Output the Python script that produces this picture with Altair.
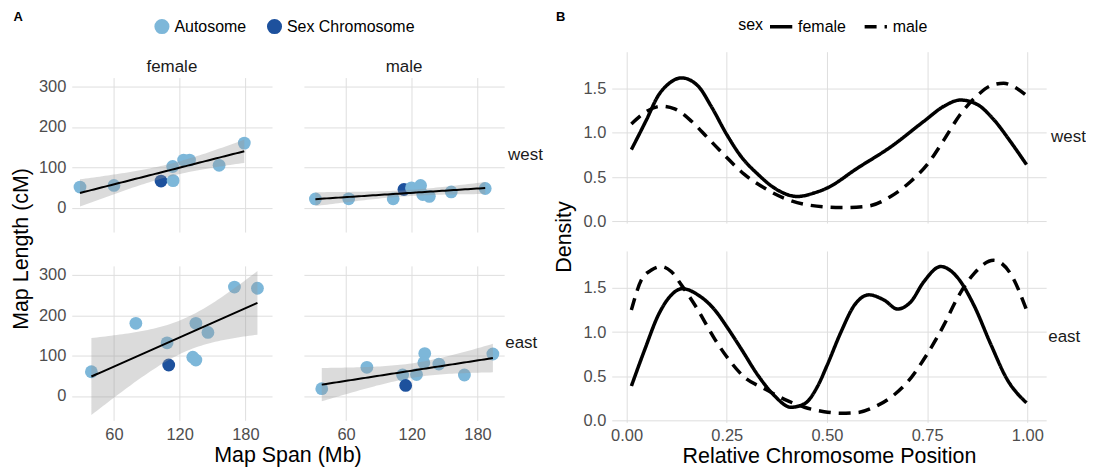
import altair as alt
import pandas as pd
import numpy as np

FONT = "Liberation Sans"

# ---------------- Panel A data (Map Span vs Map Length) ----------------
fw_x = [29, 60, 103, 114, 113.6, 123.6, 129, 156, 179]
fw_y = [51, 55, 66, 67, 102, 118, 118, 105, 160]
fw_c = ["Autosome", "Autosome", "Sex Chromosome", "Autosome", "Autosome", "Autosome", "Autosome", "Autosome", "Autosome"]

mw_x = [32, 62.4, 103, 112.8, 119.7, 128, 130, 136, 156, 187]
mw_y = [21.7, 22, 22, 45, 49, 55, 32.5, 28, 39, 47.5]
mw_c = ["Autosome", "Autosome", "Autosome", "Sex Chromosome", "Autosome", "Autosome", "Autosome", "Autosome", "Autosome", "Autosome"]

fe_x = [39.4, 80, 108.5, 110, 132, 134.8, 134.8, 145.8, 170, 191]
fe_y = [60, 180, 131.7, 76.7, 96, 89, 180, 157.5, 270, 267]
fe_c = ["Autosome", "Autosome", "Autosome", "Sex Chromosome", "Autosome", "Autosome", "Autosome", "Autosome", "Autosome", "Autosome"]

me_x = [37.8, 79, 111.6, 114.4, 124.3, 131.8, 131, 144.7, 168, 194]
me_y = [18, 71, 52, 26, 53, 105, 82.5, 79, 52, 104]
me_c = ["Autosome", "Autosome", "Autosome", "Sex Chromosome", "Autosome", "Autosome", "Autosome", "Autosome", "Autosome", "Autosome"]

chrom_types = ["Autosome", "Sex Chromosome"]
sexes = ["female", "male"]
regions = ["west", "east"]

T95 = {7: 2.365, 8: 2.306}

groups_a = [
    ("female", "west", fw_x, fw_y, fw_c),
    ("male", "west", mw_x, mw_y, mw_c),
    ("female", "east", fe_x, fe_y, fe_c),
    ("male", "east", me_x, me_y, me_c),
]

rows = []
for sex, region, xs, ys, cs in groups_a:
    for x, y, c in zip(xs, ys, cs):
        rows.append(dict(sex=sex, region=region, layer="pt", x=x, y=y, chrom=c))
    x = np.array(xs, float)
    y = np.array(ys, float)
    n = len(x)
    b, a = np.polyfit(x, y, 1)
    resid = y - (a + b * x)
    s = np.sqrt((resid ** 2).sum() / (n - 2))
    sxx = ((x - x.mean()) ** 2).sum()
    for xg in np.linspace(x.min(), x.max(), 60):
        yh = a + b * xg
        se = s * np.sqrt(1 / n + (xg - x.mean()) ** 2 / sxx)
        rows.append(dict(sex=sex, region=region, layer="fit", x=xg, y=yh,
                         lo=yh - T95[n - 2] * se, hi=yh + T95[n - 2] * se))
dfa = pd.DataFrame(rows)

color_scale = alt.Scale(domain=chrom_types, range=["#7DB7D9", "#1D519D"])

xa = alt.X("x:Q", title=None,
           scale=alt.Scale(domain=[21.5, 204.3], nice=False, zero=False),
           axis=alt.Axis(values=[60, 120, 180], labelPadding=6))
ya = alt.Y("y:Q", title=None,
           scale=alt.Scale(domain=[-60.4, 322.4], nice=False, zero=False),
           axis=alt.Axis(values=[0, 100, 200, 300], labelPadding=6))

pts = alt.Chart().transform_filter(alt.datum.layer == "pt").mark_circle(size=165, opacity=1).encode(
    x=xa, y=ya, color=alt.Color("chrom:N", scale=color_scale, legend=None))
band = alt.Chart().transform_filter(alt.datum.layer == "fit").mark_area(color="#999999", opacity=0.35).encode(
    x=xa, y=alt.Y("lo:Q"), y2="hi:Q")
line = alt.Chart().transform_filter(alt.datum.layer == "fit").mark_line(color="black", strokeWidth=2).encode(
    x=xa, y=ya)

hdr_title = dict(titleFontSize=21.5, titleFontWeight="normal", titleColor="black", titleFont=FONT)

facet_a = alt.layer(pts, band, line, data=dfa).properties(width=201, height=155).facet(
    column=alt.Column("sex:N", sort=sexes,
                      header=alt.Header(title="Map Span (Mb)", titleOrient="bottom", labels=False,
                                        titlePadding=-8, **hdr_title)),
    row=alt.Row("region:N", sort=regions,
                header=alt.Header(title="Map Length (cM)", titleOrient="left", labelOrient="right",
                                  labelAngle=0, labelAlign="left",
                                  labelBaseline="middle", labelFontSize=17, labelColor="#1A1A1A",
                                  labelFont=FONT, labelPadding=-31, titlePadding=-5, **hdr_title)),
    spacing={"column": 32, "row": 34},
)

# header strip for panel A: panel letter, legend, column labels
key_a = pd.DataFrame({"chrom": chrom_types})
hdr_a_legend = alt.Chart(key_a).transform_filter("false").mark_circle(size=165, opacity=1).encode(
    x=alt.value(0), y=alt.value(0),
    color=alt.Color("chrom:N", scale=color_scale,
                    legend=alt.Legend(title=None, orient="none", legendX=82, legendY=-33, direction="horizontal",
                                      symbolType="circle", symbolSize=230, labelFontSize=16,
                                      labelColor="black", symbolOpacity=1, columnPadding=19,
                                      labelOffset=4, labelFont=FONT)))
one = pd.DataFrame({"k": [0]})
lab_a = alt.Chart(one).mark_text(text="A", fontSize=13, fontWeight="bold", font=FONT, align="left",
                                 baseline="alphabetic", color="black").encode(
    x=alt.value(-58.6), y=alt.value(-29.6))
strip_f = alt.Chart(one).mark_text(text=sexes[0], fontSize=17, font=FONT, align="center",
                                   baseline="alphabetic", color="#1A1A1A").encode(
    x=alt.value(100.5), y=alt.value(21.4))
strip_m = alt.Chart(one).mark_text(text=sexes[1], fontSize=17, font=FONT, align="center",
                                   baseline="alphabetic", color="#1A1A1A").encode(
    x=alt.value(333.5), y=alt.value(21.4))
hdr_a = alt.layer(hdr_a_legend, lab_a, strip_f, strip_m).properties(width=434, height=27)

chart_a = alt.vconcat(hdr_a, facet_a, spacing=0).resolve_scale(color="independent").resolve_legend(
    color="independent")

# ---------------- Panel B data (density curves) ----------------
wf_pos = [0.012, 0.05, 0.079, 0.104, 0.137, 0.178, 0.211, 0.25, 0.286, 0.328, 0.369, 0.427, 0.468, 0.5,
          0.576, 0.659, 0.742, 0.792, 0.833, 0.875, 0.916, 0.958, 0.998]
wf_den = [0.81, 1.15, 1.42, 1.55, 1.62, 1.53, 1.30, 0.98, 0.73, 0.53, 0.375, 0.28, 0.32, 0.375,
          0.60, 0.84, 1.13, 1.30, 1.37, 1.32, 1.15, 0.90, 0.64]

wm_pos = [0.012, 0.046, 0.087, 0.12, 0.162, 0.203, 0.25, 0.294, 0.344, 0.394, 0.452, 0.535, 0.601, 0.659,
          0.709, 0.75, 0.792, 0.833, 0.875, 0.908, 0.941, 0.974, 0.998]
wm_den = [1.10, 1.23, 1.30, 1.27, 1.13, 0.94, 0.72, 0.53, 0.375, 0.26, 0.185, 0.155, 0.17, 0.28,
          0.45, 0.64, 0.92, 1.21, 1.42, 1.53, 1.56, 1.50, 1.42]

ef_pos = [0.012, 0.046, 0.079, 0.112, 0.139, 0.178, 0.22, 0.25, 0.286, 0.328, 0.369, 0.41, 0.444, 0.477,
          0.5, 0.535, 0.568, 0.605, 0.643, 0.676, 0.709, 0.742, 0.784, 0.825, 0.867, 0.908, 0.949, 0.998]
ef_den = [0.39, 0.81, 1.19, 1.42, 1.49, 1.42, 1.25, 1.06, 0.81, 0.51, 0.28, 0.15, 0.19, 0.39,
          0.62, 1.00, 1.30, 1.42, 1.36, 1.26, 1.34, 1.57, 1.74, 1.62, 1.30, 0.87, 0.47, 0.20]

em_pos = [0.012, 0.037, 0.062, 0.087, 0.112, 0.137, 0.178, 0.22, 0.25, 0.294, 0.344, 0.394, 0.444, 0.493,
          0.535, 0.576, 0.617, 0.659, 0.70, 0.75, 0.792, 0.825, 0.867, 0.916, 0.958, 0.998]
em_den = [1.25, 1.59, 1.70, 1.74, 1.68, 1.53, 1.25, 0.92, 0.72, 0.49, 0.36, 0.24, 0.15, 0.10,
          0.083, 0.09, 0.15, 0.26, 0.43, 0.75, 1.08, 1.38, 1.66, 1.81, 1.66, 1.25]

brows = []
for sex, region, ps, ds in [("female", "west", wf_pos, wf_den), ("male", "west", wm_pos, wm_den),
                            ("female", "east", ef_pos, ef_den), ("male", "east", em_pos, em_den)]:
    for p, d in zip(ps, ds):
        brows.append(dict(sex=sex, region=region, pos=p, density=d))
dfb = pd.DataFrame(brows)

dash_scale = alt.Scale(domain=sexes, range=[[1, 0], [12, 8]])

facet_b = alt.Chart(dfb).mark_line(color="black", strokeWidth=3.5, interpolate="monotone").encode(
    x=alt.X("pos:Q", title="Relative Chromosome Position",
            scale=alt.Scale(domain=[-0.037, 1.047], nice=False, zero=False),
            axis=alt.Axis(values=[0, 0.25, 0.5, 0.75, 1.0], format=".2f", labelPadding=5, titlePadding=2)),
    y=alt.Y("density:Q", title=None,
            scale=alt.Scale(domain=[-0.02, 1.916], nice=False, zero=False),
            axis=alt.Axis(values=[0, 0.5, 1.0, 1.5], format=".1f", labelPadding=6)),
    strokeDash=alt.StrokeDash("sex:N", scale=dash_scale, legend=None),
    detail="sex:N",
).properties(width=436, height=172).facet(
    row=alt.Row("region:N", sort=regions,
                header=alt.Header(title="Density", titleOrient="left", labelOrient="right", labelAngle=0,
                                  labelAlign="left",
                                  labelBaseline="middle", labelFontSize=17, labelColor="#1A1A1A",
                                  labelFont=FONT, labelPadding=-30, titlePadding=-3, **hdr_title)),
    spacing=28,
)

key_b = pd.DataFrame({"sex": sexes})
hdr_b_legend = alt.Chart(key_b).transform_filter("false").mark_line(color="black", strokeWidth=3.5).encode(
    x=alt.value(0), y=alt.value(0),
    strokeDash=alt.StrokeDash("sex:N", scale=dash_scale,
                              legend=alt.Legend(title="sex", orient="none", legendX=127, legendY=-37,
                                                direction="horizontal",
                                                titleOrient="left", titleFontSize=16, titleFontWeight="normal",
                                                titleFont=FONT, labelFont=FONT,
                                                labelFontSize=16, labelColor="black", symbolType="stroke",
                                                symbolStrokeWidth=3.5, symbolSize=500,
                                                symbolStrokeColor="black")))
lab_b = alt.Chart(one).mark_text(text="B", fontSize=13, fontWeight="bold", font=FONT, align="left",
                                 baseline="alphabetic", color="black").encode(
    x=alt.value(-56), y=alt.value(-29.7))
hdr_b = alt.layer(hdr_b_legend, lab_b).properties(width=436, height=1)

chart_b = alt.vconcat(hdr_b, facet_b, spacing=0).resolve_scale(strokeDash="independent").resolve_legend(
    strokeDash="independent")

chart = alt.hconcat(chart_a, chart_b, spacing=11).resolve_scale(
    color="independent", strokeDash="independent", x="independent", y="independent").resolve_legend(
    color="independent", strokeDash="independent"
).configure(font=FONT, padding={"left": 3, "top": 2, "right": 0, "bottom": 0}).configure_view(
    stroke=None).configure_axis(
    grid=True, gridColor="#DEDEDE", gridWidth=1, domain=False, ticks=False,
    labelFontSize=16.5, labelColor="#4D4D4D", labelFont=FONT,
    titleFontSize=21.5, titleColor="black", titleFontWeight="normal", titleFont=FONT,
).configure_legend(labelFont=FONT, titleFont=FONT)

chart.save("out.html", embed_options={"renderer": "svg", "actions": False})
